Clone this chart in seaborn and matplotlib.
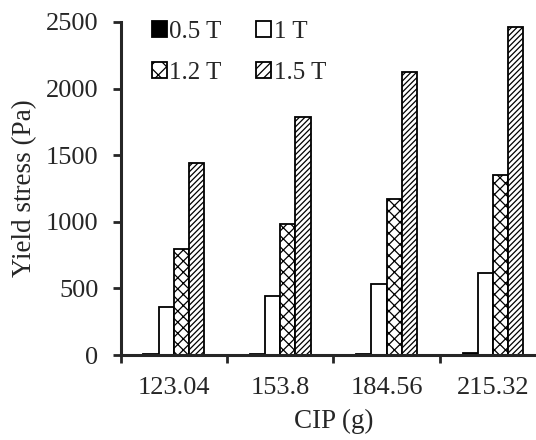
import matplotlib
matplotlib.use("Agg")
import matplotlib.pyplot as plt
import seaborn as sns
import pandas as pd
import numpy as np

categories = ["123.04", "153.8", "184.56", "215.32"]
series = ["0.5 T", "1 T", "1.2 T", "1.5 T"]
v05 = [5, 7, 9, 14]
v1 = [358, 445, 533, 616]
v12 = [796, 983, 1171, 1351]
v15 = [1444, 1789, 2127, 2460]

rows = []
for s, vals in zip(series, [v05, v1, v12, v15]):
    for c, v in zip(categories, vals):
        rows.append({"CIP": c, "Field": s, "Yield": v})
df = pd.DataFrame(rows)

sns.set_style("ticks")
plt.rcParams["font.family"] = ["Liberation Serif", "DejaVu Serif"]
plt.rcParams["hatch.linewidth"] = 0.9

fig = plt.figure(figsize=(5.36, 4.4), dpi=100)
ax = fig.add_axes([0.225, 0.193, 0.794, 0.757])

palette = {"0.5 T": "black", "1 T": "white", "1.2 T": "white", "1.5 T": "white"}
sns.barplot(data=df, x="CIP", y="Yield", hue="Field", hue_order=series,
            palette=palette, width=0.57, gap=0, edgecolor="black",
            linewidth=1.3, ax=ax, errorbar=None, saturation=1)

hatches = {"0.5 T": "", "1 T": "", "1.2 T": "xxx", "1.5 T": "//////"}
for cont, s in zip(ax.containers, series):
    for p in cont.patches:
        p.set_hatch(hatches[s])

ax.set_xlim(-0.5, 3.5)
ax.set_ylim(0, 2500)
ax.set_yticks([0, 500, 1000, 1500, 2000, 2500])
ax.set_xticks(range(4))
ax.set_xticklabels(categories)
ax.set_xticks(np.arange(-0.5, 3.6, 1), minor=True)
ax.tick_params(axis="x", which="major", length=0, pad=16, labelsize=19)
ax.tick_params(axis="x", which="minor", length=6, width=2, direction="out")
ax.tick_params(axis="y", length=6, width=2, direction="out", labelsize=19, pad=10)
for sp in ["top", "right"]:
    ax.spines[sp].set_visible(False)
for sp in ["left", "bottom"]:
    ax.spines[sp].set_linewidth(2.2)

ax.set_xlabel("CIP (g)", fontsize=19.5, labelpad=7)
ax.set_ylabel("Yield stress (Pa)", fontsize=19.5, labelpad=6)

handles, labels = ax.get_legend_handles_labels()
for h, s in zip(handles, series):
    h.set_hatch(hatches[s].replace("xxx", "xx").replace("//////", "////"))
order = [0, 2, 1, 3]
ax.legend([handles[i] for i in order], [labels[i] for i in order],
          loc="upper left", ncol=2, frameon=False,
          fontsize=18, handlelength=0.6, handleheight=0.6, handletextpad=0.1,
          columnspacing=1.4, labelspacing=0.75, bbox_to_anchor=(0.02, 1.07))

fig.savefig("out.png", dpi=100)
